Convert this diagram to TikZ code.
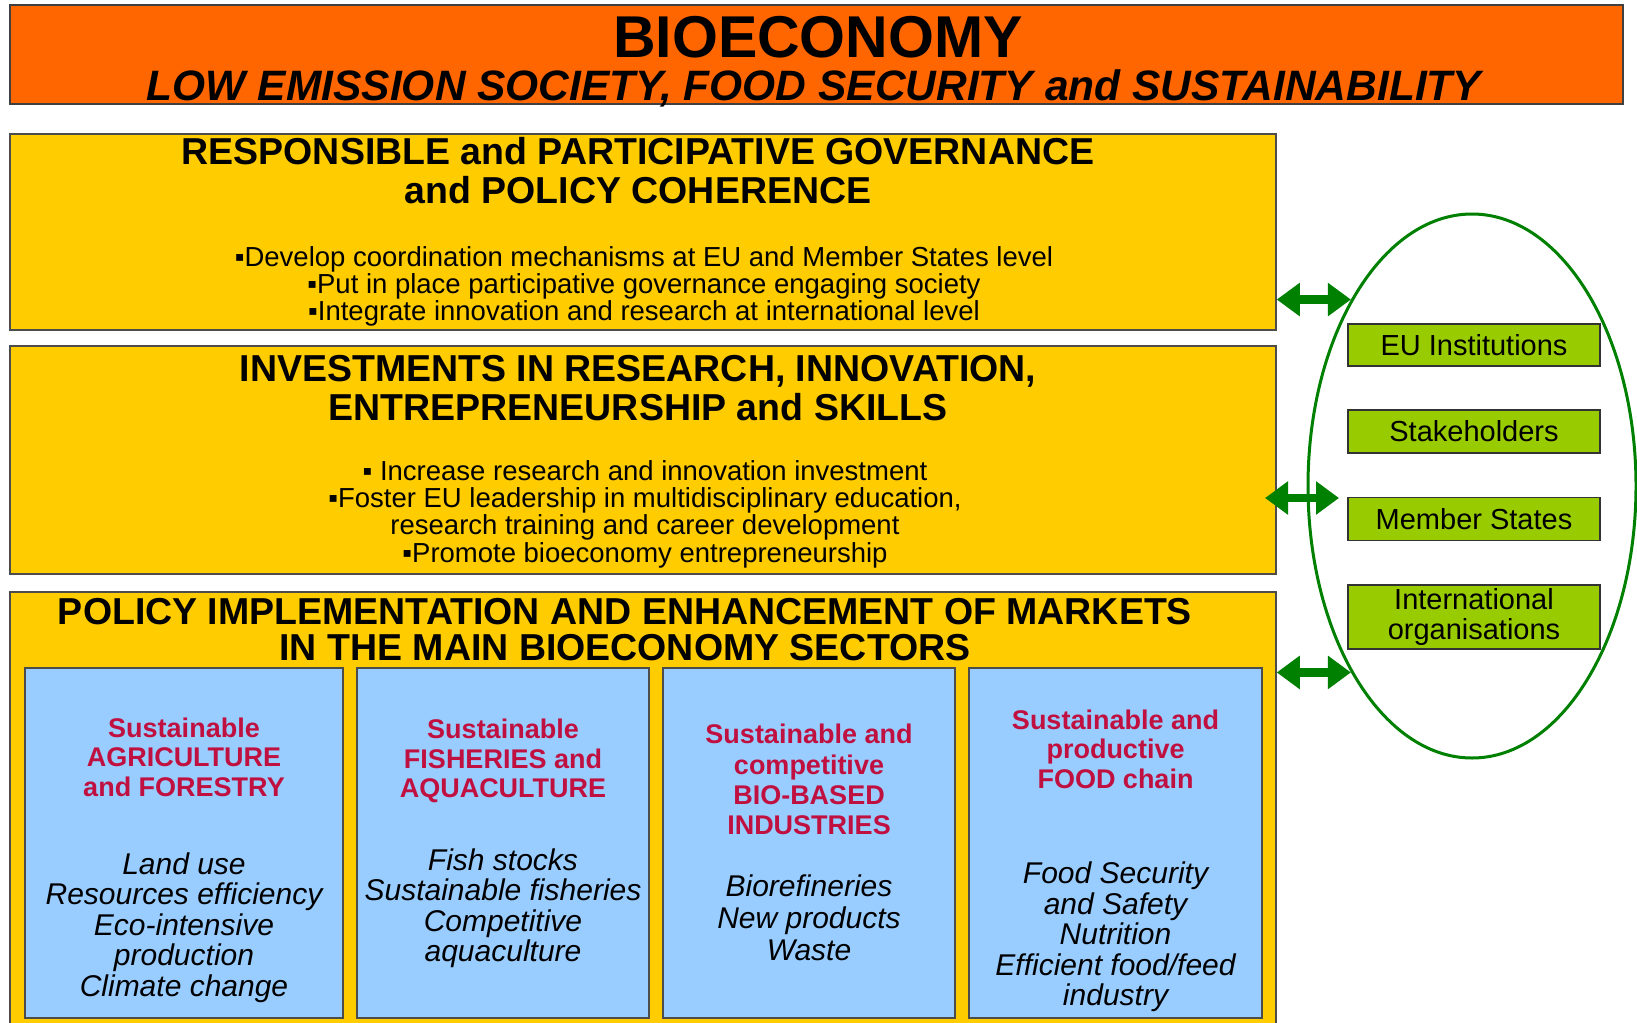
\documentclass[tikz,border=0pt]{standalone}
\usepackage{fontspec}
\setmainfont{Liberation Sans}
\usetikzlibrary{positioning,shapes.geometric,arrows.meta}
\definecolor{bioorange}{HTML}{FF6600}
\definecolor{bioyellow}{HTML}{FFCC00}
\definecolor{bioblue}{HTML}{99CCFF}
\definecolor{biogreen}{HTML}{99CC00}
\definecolor{biodark}{HTML}{008000}
\definecolor{biored}{RGB}{192,16,64}
\tikzset{
  banner/.style={draw=black!75, line width=1.5pt, fill=bioorange, inner sep=0pt},
  pillar/.style={draw=black!70, line width=1.5pt, fill=bioyellow, inner sep=0pt},
  sector/.style={draw=black!70, line width=1.5pt, fill=bioblue, inner sep=0pt, minimum height=350pt},
  actor/.style={draw=black!80, line width=1.5pt, fill=biogreen, inner sep=0pt, minimum width=252pt,
    font=\fontsize{29}{30}\selectfont, align=center},
  head/.style={font=\fontsize{37.5}{39}\selectfont\bfseries, align=center, inner sep=0pt},
  bullets/.style={font=\fontsize{27.5}{27.3}\selectfont, align=center, inner sep=0pt},
  sectorhead/.style={font=\fontsize{27}{29.5}\selectfont\bfseries, text=biored, align=center, inner sep=0pt},
  topics/.style={font=\fontsize{30}{30.5}\selectfont\itshape, align=center, inner sep=0pt},
  biarrow/.style={draw=biodark, line width=8.5pt, {Triangle[length=23pt,width=32pt]}-{Triangle[length=23pt,width=32pt]}}
}

\begin{document}
\begin{tikzpicture}[x=1pt, y=-1pt]
            \useasboundingbox (0,0) rectangle (1637,1022);
            \def\gap{12.5pt}

            % banner
            \node (top) [banner, minimum width=1613pt, minimum height=99pt] at (816.5,54.5) {};
            \node (title) [font=\fontsize{59}{59}\selectfont\bfseries, inner sep=0pt] at (818,37) {BIOECONOMY};
            \node (subtitle) [font=\fontsize{42.5}{43}\selectfont\bfseries\itshape, inner sep=0pt] at (814,88)
                {LOW EMISSION SOCIETY, FOOD SECURITY and SUSTAINABILITY};

            % the three pillars
            \node (gov) [pillar, minimum width=1266pt, minimum height=196pt] at (643,232) {};
            \node (govhead) [head] at (638,170.5) {RESPONSIBLE and PARTICIPATIVE GOVERNANCE\\and POLICY COHERENCE};
            \node (govlist) [bullets] at (644,286.5) {▪Develop coordination mechanisms at EU and Member States level\\
                ▪Put in place participative governance engaging society\\
                ▪Integrate innovation and research at international level};

            \node (inv) [pillar, minimum width=1266pt, minimum height=228pt] at (643,460) {};
            \node (invhead) [head] at (638,388.5) {INVESTMENTS IN RESEARCH, INNOVATION,\\ENTREPRENEURSHIP and SKILLS};
            \node (invlist) [bullets] at (645,514) {▪ Increase research and innovation investment\\
                ▪Foster EU leadership in multidisciplinary education,\\
                research training and career development\\
                ▪Promote bioeconomy entrepreneurship};

            \node (pol) [pillar, minimum width=1266pt, minimum height=448pt] at (643,816) {};
            \node (polhead) [head, font=\fontsize{37.5}{36}\selectfont\bfseries] at (625,630)
                {POLICY IMPLEMENTATION AND ENHANCEMENT OF MARKETS\\IN THE MAIN BIOECONOMY SECTORS};

            % sectors
            \node (agri) [sector, minimum width=318pt] at (184,843) {};
            \node (fish) [sector, minimum width=292pt, right=\gap of agri] {};
            \node (bio) [sector, minimum width=292pt, right=\gap of fish] {};
            \node (food) [sector, minimum width=293pt, right=\gap of bio] {};

            \node (agrihead) [sectorhead] at (agri |- 0,757) {Sustainable\\AGRICULTURE\\and FORESTRY};
            \node (agritext) [topics] at (agri |- 0,927.5) {Land use\\Resources efficiency\\Eco-intensive\\production\\Climate change};
            \node (fishhead) [sectorhead] at (fish |- 0,761) {Sustainable\\FISHERIES and\\AQUACULTURE};
            \node (fishtext) [topics] at (fish |- 0,908) {Fish stocks\\Sustainable fisheries\\Competitive\\aquaculture};
            \node (biohead) [sectorhead, font=\fontsize{27}{30.3}\selectfont\bfseries] at (bio |- 0,779.5)
                {Sustainable and\\competitive\\BIO-BASED\\INDUSTRIES};
            \node (biotext) [topics, font=\fontsize{30}{32}\selectfont\itshape] at (bio |- 0,918) {Biorefineries\\New products\\Waste};
            \node (foodhead) [sectorhead] at (food |- 0,749) {Sustainable and\\productive\\FOOD chain};
            \node (foodtext) [topics] at (food |- 0,937) {Food Security\\and Safety\\Nutrition\\Efficient food/feed\\industry};

            % actors
            \node (ring) [draw=biodark, line width=3pt, ellipse, minimum width=328pt, minimum height=544pt, inner sep=0pt] at (1472,486) {};
            \node (eu) [actor, minimum height=42pt] at (1474,345) {EU Institutions};
            \node (stake) [actor, minimum height=43pt] at (1474,431.5) {Stakeholders};
            \node (ms) [actor, minimum height=43pt] at (1474,519) {Member States};
            \node (intl) [actor, minimum height=64pt] at (1474,617) {International\\organisations};

            % links
            \coordinate (inv-in) at (1265,498);
            \coordinate (inv-out) at (1339,498);
            \draw[biarrow] (gov.east |- ring.123) -- (ring.123);
            \draw[biarrow] (inv-in) -- (inv-out);
            \draw[biarrow] (pol.east |- ring.237) -- (ring.237);
        \end{tikzpicture}
\end{document}
